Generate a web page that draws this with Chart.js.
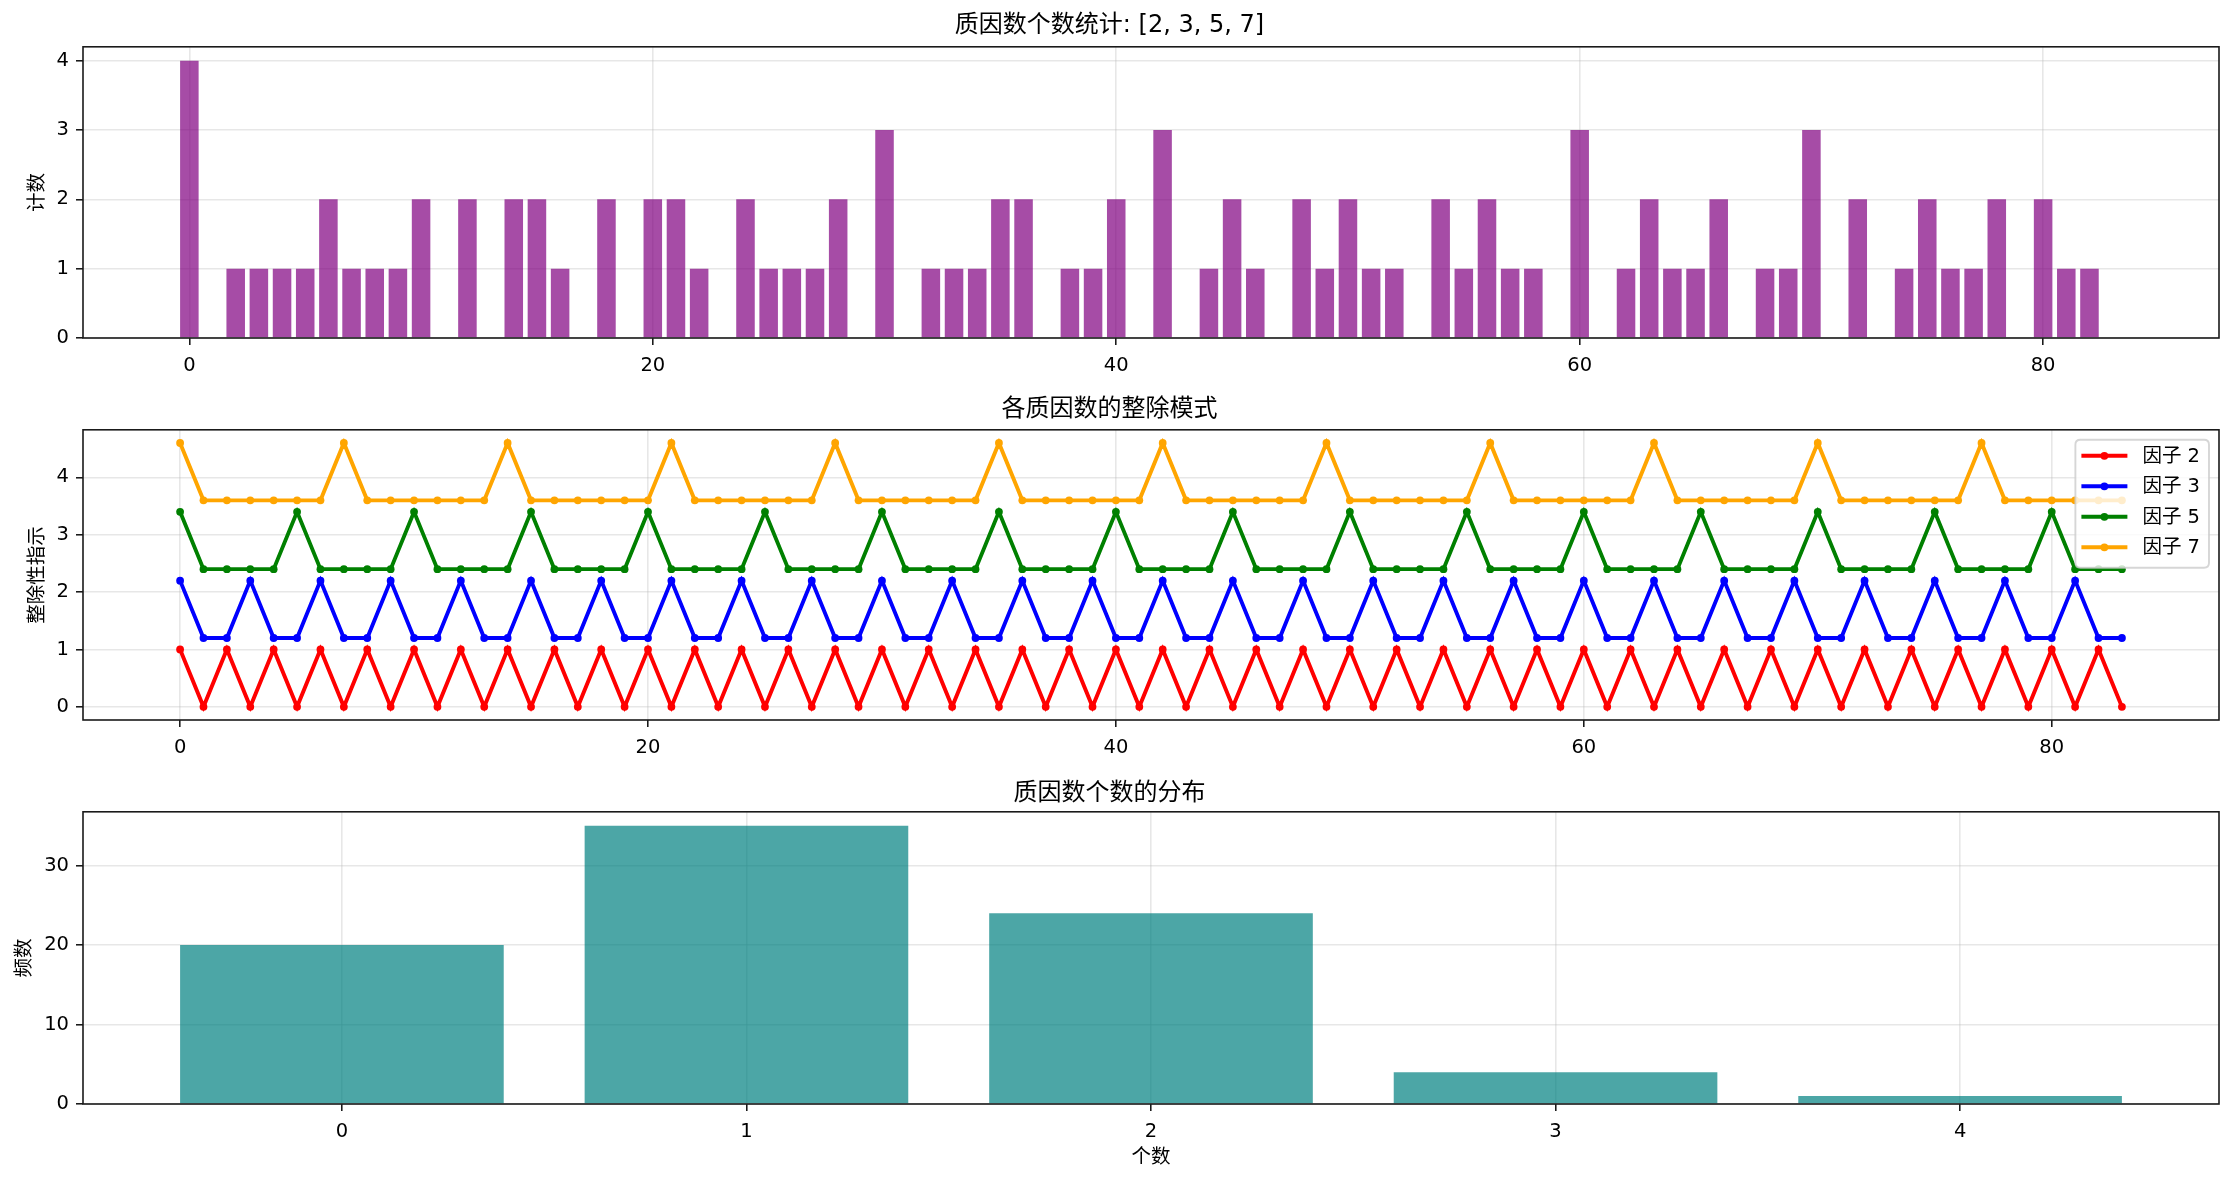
<!DOCTYPE html>
<html>
<head>
<meta charset="utf-8">
<script src="https://cdn.jsdelivr.net/npm/chart.js@4.4.1/dist/chart.umd.min.js"></script>
<style>
html,body{margin:0;padding:0;background:#ffffff;}
body{width:2234px;height:1182px;position:relative;overflow:hidden;}
canvas{position:absolute;left:0;}
</style>
</head>
<body>
<canvas id="c1" width="2234" height="400" style="top:0px"></canvas>
<canvas id="c2" width="2234" height="385" style="top:385px"></canvas>
<canvas id="c3" width="2234" height="412" style="top:770px"></canvas>
<script>
// ---------------- DATA ----------------
const numbers = [
  0,1,2,3,4,5,6,7,8,9,
  10,11,12,13,14,15,16,17,18,19,
  20,21,22,23,24,25,26,27,28,29,
  30,31,32,33,34,35,36,37,38,39,
  40,41,42,43,44,45,46,47,48,49,
  50,51,52,53,54,55,56,57,58,59,
  60,61,62,63,64,65,66,67,68,69,
  70,71,72,73,74,75,76,77,78,79,
  80,81,82,83
];
const factorCounts = [
  4,0,1,1,1,1,2,1,1,1,
  2,0,2,0,2,2,1,0,2,0,
  2,2,1,0,2,1,1,1,2,0,
  3,0,1,1,1,2,2,0,1,1,
  2,0,3,0,1,2,1,0,2,1,
  2,1,1,0,2,1,2,1,1,0,
  3,0,1,2,1,1,2,0,1,1,
  3,0,2,0,1,2,1,1,2,0,
  2,1,1,0
];
const factor2 = [
  1,0,1,0,1,0,1,0,1,0,
  1,0,1,0,1,0,1,0,1,0,
  1,0,1,0,1,0,1,0,1,0,
  1,0,1,0,1,0,1,0,1,0,
  1,0,1,0,1,0,1,0,1,0,
  1,0,1,0,1,0,1,0,1,0,
  1,0,1,0,1,0,1,0,1,0,
  1,0,1,0,1,0,1,0,1,0,
  1,0,1,0
];
const factor3 = [
  2.2,1.2,1.2,2.2,1.2,1.2,2.2,1.2,1.2,2.2,1.2,1.2,
  2.2,1.2,1.2,2.2,1.2,1.2,2.2,1.2,1.2,2.2,1.2,1.2,
  2.2,1.2,1.2,2.2,1.2,1.2,2.2,1.2,1.2,2.2,1.2,1.2,
  2.2,1.2,1.2,2.2,1.2,1.2,2.2,1.2,1.2,2.2,1.2,1.2,
  2.2,1.2,1.2,2.2,1.2,1.2,2.2,1.2,1.2,2.2,1.2,1.2,
  2.2,1.2,1.2,2.2,1.2,1.2,2.2,1.2,1.2,2.2,1.2,1.2,
  2.2,1.2,1.2,2.2,1.2,1.2,2.2,1.2,1.2,2.2,1.2,1.2
];
const factor5 = [
  3.4,2.4,2.4,2.4,2.4,3.4,2.4,2.4,2.4,2.4,
  3.4,2.4,2.4,2.4,2.4,3.4,2.4,2.4,2.4,2.4,
  3.4,2.4,2.4,2.4,2.4,3.4,2.4,2.4,2.4,2.4,
  3.4,2.4,2.4,2.4,2.4,3.4,2.4,2.4,2.4,2.4,
  3.4,2.4,2.4,2.4,2.4,3.4,2.4,2.4,2.4,2.4,
  3.4,2.4,2.4,2.4,2.4,3.4,2.4,2.4,2.4,2.4,
  3.4,2.4,2.4,2.4,2.4,3.4,2.4,2.4,2.4,2.4,
  3.4,2.4,2.4,2.4,2.4,3.4,2.4,2.4,2.4,2.4,
  3.4,2.4,2.4,2.4
];
const factor7 = [
  4.6,3.6,3.6,3.6,3.6,3.6,3.6,4.6,3.6,3.6,3.6,3.6,3.6,3.6,
  4.6,3.6,3.6,3.6,3.6,3.6,3.6,4.6,3.6,3.6,3.6,3.6,3.6,3.6,
  4.6,3.6,3.6,3.6,3.6,3.6,3.6,4.6,3.6,3.6,3.6,3.6,3.6,3.6,
  4.6,3.6,3.6,3.6,3.6,3.6,3.6,4.6,3.6,3.6,3.6,3.6,3.6,3.6,
  4.6,3.6,3.6,3.6,3.6,3.6,3.6,4.6,3.6,3.6,3.6,3.6,3.6,3.6,
  4.6,3.6,3.6,3.6,3.6,3.6,3.6,4.6,3.6,3.6,3.6,3.6,3.6,3.6
];
const seriesLabels = ['因子 2', '因子 3', '因子 5', '因子 7'];
const distCategories = [0, 1, 2, 3, 4];
const distCounts = [20, 35, 24, 4, 1];

const xTicks1 = [0, 20, 40, 60, 80];
const yTicks1 = [0, 1, 2, 3, 4];
const xTicks2 = [0, 20, 40, 60, 80];
const yTicks2 = [0, 1, 2, 3, 4];
const xTicks3 = [0, 1, 2, 3, 4];
const yTicks3 = [0, 10, 20, 30];

const title1 = '质因数个数统计: [2, 3, 5, 7]';
const title2 = '各质因数的整除模式';
const title3 = '质因数个数的分布';
const yLabel1 = '计数';
const yLabel2 = '整除性指示';
const yLabel3 = '频数';
const xLabel3 = '个数';

// ---------------- STYLE ----------------
const FONT = '"DejaVu Sans", "Noto Sans CJK SC", sans-serif';
const TICK_SIZE = 19.5;
const TITLE_SIZE = 24;
const GRID = 'rgba(176,176,176,0.3)';
const DARK = '#1a1a1a';

const framePlugin = {
  id: 'frame',
  afterDraw(chart) {
    const {ctx, chartArea: a} = chart;
    ctx.save();
    ctx.strokeStyle = DARK;
    ctx.lineWidth = 1.6;
    ctx.strokeRect(a.left, a.top, a.right - a.left, a.bottom - a.top);
    ctx.restore();
  }
};

const boxLegendPlugin = {
  id: 'boxLegend',
  afterDraw(chart) {
    const {ctx, chartArea: a} = chart;
    const ds = chart.data.datasets;
    ctx.save();
    ctx.font = TICK_SIZE + 'px ' + FONT;
    const tw = Math.max(...ds.map(d => ctx.measureText(d.label).width));
    const rowH = 30.5;
    const w = 67 + tw + 9;
    const h = 36.5 + rowH * (ds.length - 1);
    const right = a.right - 10, top = a.top + 10, left = right - w;
    const r = 5;
    ctx.beginPath();
    ctx.moveTo(left + r, top);
    ctx.lineTo(right - r, top);
    ctx.quadraticCurveTo(right, top, right, top + r);
    ctx.lineTo(right, top + h - r);
    ctx.quadraticCurveTo(right, top + h, right - r, top + h);
    ctx.lineTo(left + r, top + h);
    ctx.quadraticCurveTo(left, top + h, left, top + h - r);
    ctx.lineTo(left, top + r);
    ctx.quadraticCurveTo(left, top, left + r, top);
    ctx.closePath();
    ctx.fillStyle = 'rgba(255,255,255,0.8)';
    ctx.fill();
    ctx.strokeStyle = 'rgba(204,204,204,0.8)';
    ctx.lineWidth = 1.9;
    ctx.stroke();
    ds.forEach((d, i) => {
      const y = top + 16 + i * rowH;
      ctx.strokeStyle = d.borderColor;
      ctx.lineWidth = 3.9;
      ctx.beginPath();
      ctx.moveTo(left + 6, y);
      ctx.lineTo(left + 52, y);
      ctx.stroke();
      ctx.fillStyle = d.borderColor;
      ctx.beginPath();
      ctx.arc(left + 29, y, 3.9, 0, Math.PI * 2);
      ctx.fill();
      ctx.fillStyle = '#000';
      ctx.textBaseline = 'middle';
      ctx.textAlign = 'left';
      ctx.fillText(d.label, left + 67, y + 1);
    });
    ctx.restore();
  }
};

function xScale(min, max, ticks, xAxisHeight, titleText) {
  const s = {
    type: 'linear', min, max, offset: false, z: 1,
    grid: {offset: false, color: GRID, lineWidth: 1.55, drawTicks: true, tickLength: 7, tickColor: DARK, tickWidth: 1.6},
    border: {display: false},
    ticks: {font: {family: FONT, size: TICK_SIZE}, color: '#000', padding: 9, maxRotation: 0, autoSkip: false},
    afterBuildTicks: sc => { sc.ticks = ticks.map(v => ({value: v})); },
    afterFit: sc => { sc.height = xAxisHeight; }
  };
  if (titleText) {
    s.title = {display: true, text: titleText, font: {family: FONT, size: TICK_SIZE}, color: '#000', padding: {top: 0, bottom: 12.4}};
  }
  return s;
}
function yScale(min, max, ticks, titleText, titlePad) {
  return {
    type: 'linear', min, max, z: 1,
    grid: {color: GRID, lineWidth: 1.55, drawTicks: true, tickLength: 7, tickColor: DARK, tickWidth: 1.6},
    border: {display: false},
    ticks: {font: {family: FONT, size: TICK_SIZE}, color: '#000', padding: 7},
    afterBuildTicks: sc => { sc.ticks = ticks.map(v => ({value: v})); },
    afterFit: sc => { sc.width = 83; },
    title: {display: true, text: titleText, font: {family: FONT, size: TICK_SIZE}, color: '#000', padding: {top: titlePad, bottom: 0}}
  };
}
function basePlugins(text, pt, pb) {
  return {
    legend: {display: false},
    tooltip: {enabled: false},
    title: {display: true, text, font: {family: FONT, size: TITLE_SIZE, weight: 'normal'}, color: '#000', padding: {top: pt, bottom: pb}}
  };
}

// ---------------- CHART 1 ----------------
new Chart(document.getElementById('c1'), {
  type: 'bar',
  data: {
    datasets: [{
      data: numbers.map((n, i) => ({x: n, y: factorCounts[i]})),
      backgroundColor: 'rgba(128,0,128,0.7)',
      borderWidth: 0,
      barPercentage: 0.8,
      categoryPercentage: 1.0
    }]
  },
  options: {
    responsive: false, animation: false, devicePixelRatio: 1,
    layout: {padding: {left: 0, right: 15, top: 0, bottom: 0}},
    plugins: basePlugins(title1, 11, 7),
    scales: {
      x: xScale(-4.59, 87.59, xTicks1, 62, null),
      y: yScale(0, 4.2, yTicks1, yLabel1, 26.4)
    }
  },
  plugins: [framePlugin]
});

// ---------------- CHART 2 ----------------
const lineColors = ['#ff0000', '#0000ff', '#008000', '#ffa500'];
const lineSeries = [factor2, factor3, factor5, factor7];
new Chart(document.getElementById('c2'), {
  type: 'line',
  data: {
    datasets: lineSeries.map((arr, k) => ({
      label: seriesLabels[k],
      data: numbers.map((n, i) => ({x: n, y: arr[i]})),
      borderColor: lineColors[k],
      backgroundColor: lineColors[k],
      borderWidth: 3.9,
      pointRadius: 3.9,
      pointBorderWidth: 0,
      pointBackgroundColor: lineColors[k],
      tension: 0,
      fill: false
    }))
  },
  options: {
    responsive: false, animation: false, devicePixelRatio: 1,
    layout: {padding: {left: 0, right: 15, top: 0, bottom: 0}},
    plugins: basePlugins(title2, 10, 6),
    scales: {
      x: xScale(-4.15, 87.15, xTicks2, 50, null),
      y: yScale(-0.23, 4.83, yTicks2, yLabel2, 26.4)
    }
  },
  plugins: [framePlugin, boxLegendPlugin]
});

// ---------------- CHART 3 ----------------
new Chart(document.getElementById('c3'), {
  type: 'bar',
  data: {
    datasets: [{
      data: distCategories.map((c, i) => ({x: c, y: distCounts[i]})),
      backgroundColor: 'rgba(0,128,128,0.7)',
      borderWidth: 0,
      barPercentage: 0.8,
      categoryPercentage: 1.0
    }]
  },
  options: {
    responsive: false, animation: false, devicePixelRatio: 1,
    layout: {padding: {left: 0, right: 15, top: 0, bottom: 0}},
    plugins: basePlugins(title3, 9, 4),
    scales: {
      x: xScale(-0.64, 4.64, xTicks3, 78, xLabel3),
      y: yScale(0, 36.75, yTicks3, yLabel3, 13.4)
    }
  },
  plugins: [framePlugin]
});
</script>
</body>
</html>
